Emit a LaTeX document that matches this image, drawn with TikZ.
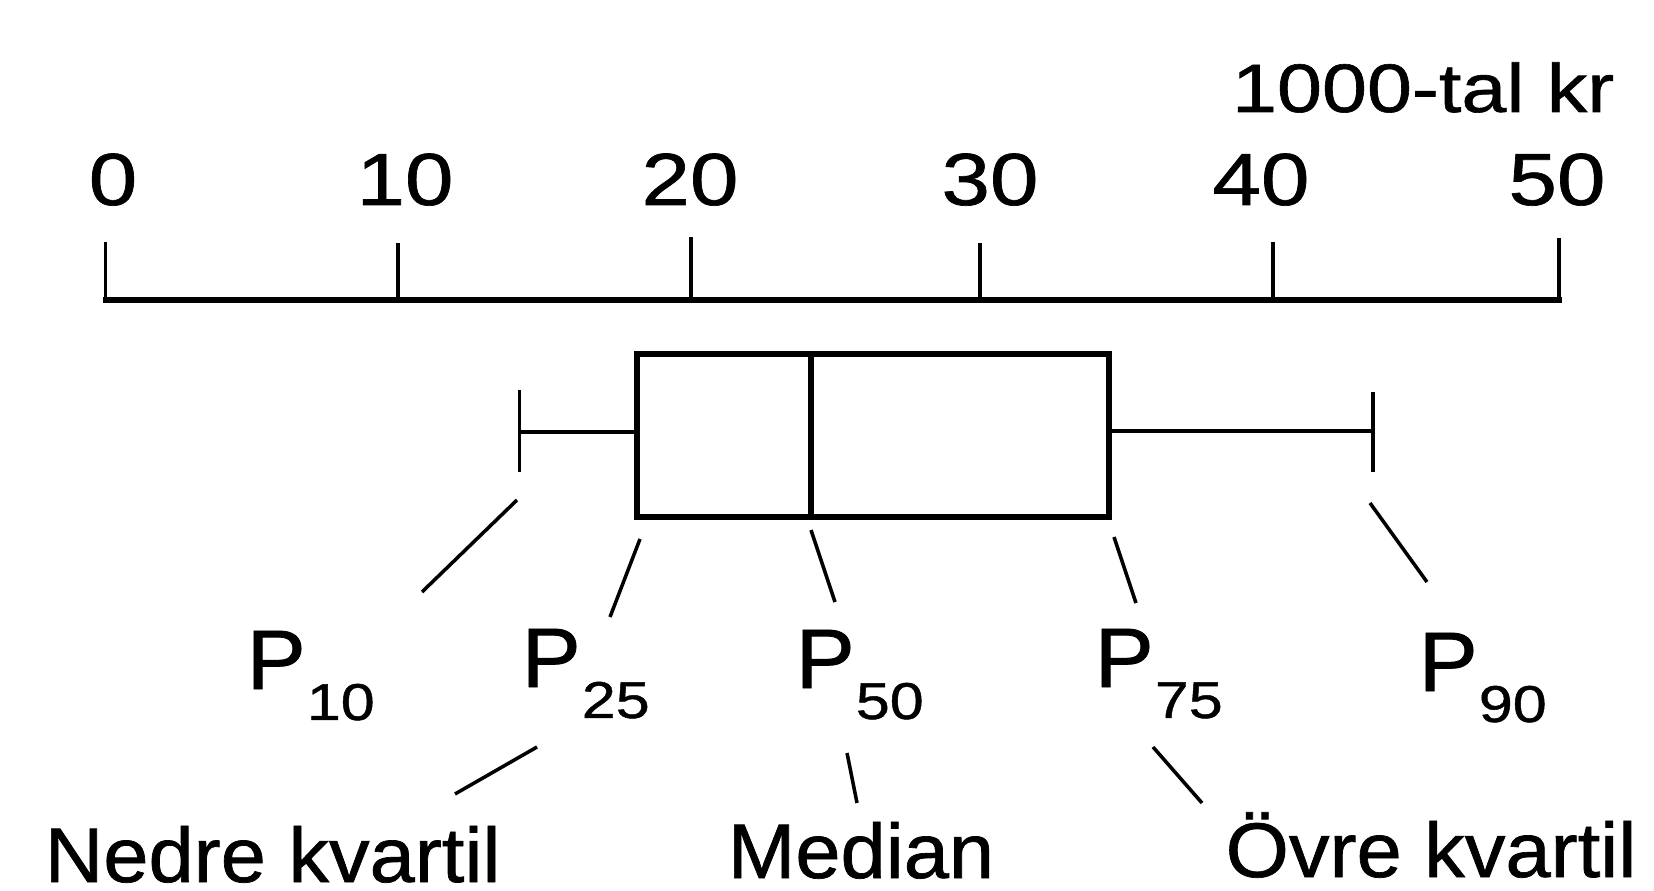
\documentclass[tikz,border=0pt]{standalone}
\usepackage{fontspec}
\setmainfont[FakeStretch=1.05,FakeBold=0.9]{Liberation Sans}
\newfontfamily\numfont[FakeStretch=1.18,FakeBold=0.9]{Liberation Sans}
\newcommand\psub[1]{\hspace{0.3pt}\raisebox{-8.8pt}{\numfont\fontsize{14.7}{17}\selectfont #1}}
\tikzset{
  axisline/.style={line width=1.6pt, line cap=rect},
  tickline/.style={line width=1.1pt},
  boxline/.style={line width=1.5pt},
  whisk/.style={line width=1.0pt},
  capline/.style={line width=1.1pt},
  leader/.style={line width=1.0pt},
  numlbl/.style={inner sep=0pt, anchor=base, font=\numfont\fontsize{21}{25}\selectfont},
  unitlbl/.style={inner sep=0pt, anchor=base east, font=\numfont\fontsize{19.5}{23}\selectfont},
  plab/.style={inner sep=0pt, anchor=base west, font=\fontsize{24}{28}\selectfont},
  txtlbl/.style={inner sep=0pt, anchor=base west, text depth=0pt, font=\fontsize{22}{26}\selectfont}
}
\begin{document}
\begin{tikzpicture}[x=0.01cm, y=-0.01cm]
\fill[white] (0,0) rectangle (1654,891);
\useasboundingbox (0,0) rectangle (1654,891);

% axis
\draw[axisline] (105.5,300) -- (1559,300);
\foreach \v/\x/\t in {0/105.5/242,10/398/243,20/691/237,30/980/243,40/1273/242,50/1559/238}{
  \draw[tickline] (\x,300) -- (\x,\t);
}
\node[numlbl] (n0)  at (113,205)  {0};
\node[numlbl] (n10) at (405,205)  {10};
\node[numlbl] (n20) at (690,205)  {20};
\node[numlbl] (n30) at (990,205)  {30};
\node[numlbl] (n40) at (1261,205) {40};
\node[numlbl] (n50) at (1557,205) {50};
\node[unitlbl] (unit) at (1615,112) {1000-tal kr};

% box
\draw[boxline] (637,354) rectangle (1109,517);
\draw[boxline] (811,354) -- (811,517);
% whiskers
\draw[whisk] (519.5,432) -- (637,432);
\draw[capline] (519.5,390) -- (519.5,472);
\draw[whisk] (1109,431) -- (1373,431);
\draw[capline] (1373,392) -- (1373,472);

% leader end points
\coordinate (a10) at (517,500);   \coordinate (b10) at (422,592);
\coordinate (a25) at (640,539);   \coordinate (b25) at (610,617);
\coordinate (a50) at (811,530);   \coordinate (b50) at (835,602);
\coordinate (a75) at (1114,537);  \coordinate (b75) at (1136,603);
\coordinate (a90) at (1370,503);  \coordinate (b90) at (1427,582);
\coordinate (cN) at (537,747);    \coordinate (dN) at (455,794);
\coordinate (cM) at (847,753);    \coordinate (dM) at (857,803);
\coordinate (cO) at (1153,747);   \coordinate (dO) at (1202,803);

\draw[leader] (a10) -- (b10);
\draw[leader] (a25) -- (b25);
\draw[leader] (a50) -- (b50);
\draw[leader] (a75) -- (b75);
\draw[leader] (a90) -- (b90);
\draw[leader] (cN) -- (dN);
\draw[leader] (cM) -- (dM);
\draw[leader] (cO) -- (dO);

% percentile labels
\node[plab] (p10) at (246,689)  {P\psub{10}};
\node[plab] (p25) at (521,687)  {P\psub{25}};
\node[plab] (p50) at (795,688)  {P\psub{50}};
\node[plab] (p75) at (1094,687) {P\psub{75}};
\node[plab] (p90) at (1418,691) {P\psub{90}};

% bottom labels
\node[txtlbl] (nedre)  at (44,882)   {Nedre kvartil};
\node[txtlbl] (median) at (727,878)  {Median};
\node[txtlbl] (ovre)   at (1225,877) {Övre kvartil};
\end{tikzpicture}
\end{document}
